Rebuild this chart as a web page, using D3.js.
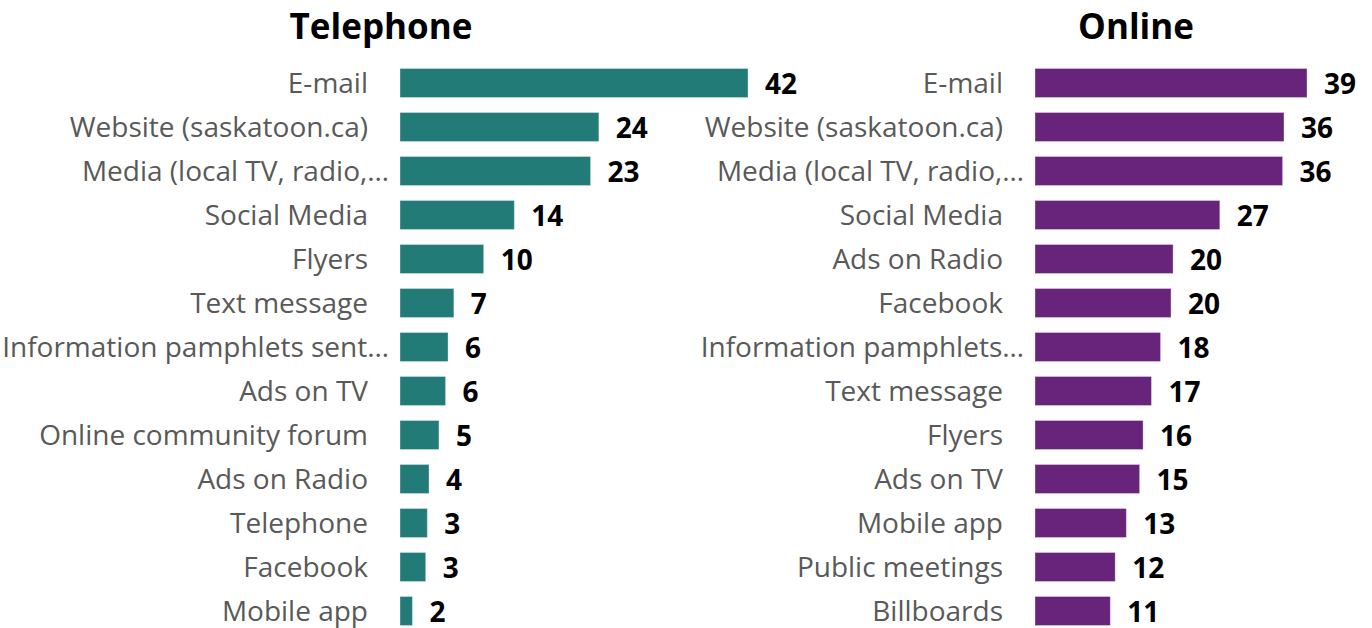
<!DOCTYPE html>
<html>
<head>
<meta charset="utf-8">
<script src="https://cdn.jsdelivr.net/npm/d3@7"></script>
<style>
  body { margin: 0; background: #fff; }
  svg { display: block; }
</style>
</head>
<body>
<div id="chart"></div>
<script>
// data
var phoneTitle = "Telephone";
var phoneCategories = ["E-mail", "Website (saskatoon.ca)", "Media (local TV, radio,…",
  "Social Media", "Flyers", "Text message", "Information pamphlets sent…", "Ads on TV",
  "Online community forum", "Ads on Radio", "Telephone", "Facebook", "Mobile app"];
var phoneValues = [42, 24, 23, 13.8, 10.1, 6.5, 5.8, 5.5, 4.7, 3.5, 3.3, 3.1, 1.5];

var onlineTitle = "Online";
var onlineCategories = ["E-mail", "Website (saskatoon.ca)", "Media (local TV, radio,…",
  "Social Media", "Ads on Radio", "Facebook", "Information pamphlets…", "Text message",
  "Flyers", "Ads on TV", "Mobile app", "Public meetings", "Billboards"];
var onlineValues = [39, 35.7, 35.5, 26.5, 19.8, 19.5, 18.0, 16.7, 15.5, 15.0, 13.1, 11.5, 10.8];

var width = 1372, height = 628;
var fmt = d3.format(".0f");

var svg = d3.select("#chart")
  .append("svg")
    .attr("width", width)
    .attr("height", height);

// draw one panel
function panel(title, titleX, categories, values, x0, x1, color) {
  var data = categories.map((c, i) => ({ cat: c, val: values[i] }));

  var x = d3.scaleLinear()
    .domain([0, d3.max(values)])
    .range([x0, x1]);

  var y = d3.scaleBand()
    .domain(categories)
    .range([61, 633])
    .paddingInner(0.34)
    .paddingOuter(0.17);

  var g = svg.append("g");

  // title
  g.append("text")
    .attr("x", titleX)
    .attr("y", 39)
    .attr("text-anchor", "middle")
    .style("font-family", "'Open Sans', sans-serif")
    .style("font-weight", "bold")
    .style("font-size", "35px")
    .style("fill", "#000")
    .text(title);

  // bars
  g.selectAll("rect")
    .data(data)
    .enter()
    .append("rect")
      .attr("x", x(0))
      .attr("y", d => y(d.cat))
      .attr("width", d => x(d.val) - x(0))
      .attr("height", y.bandwidth())
      .attr("fill", color)
      .attr("stroke", "#ffffff")
      .attr("stroke-opacity", 0.35)
      .attr("stroke-width", 1);

  // category labels
  g.selectAll("text.cat")
    .data(data)
    .enter()
    .append("text")
      .attr("class", "cat")
      .attr("x", d => x(0) - (d.cat.endsWith("…") ? 11 : 32))
      .attr("y", d => y(d.cat) + y.bandwidth() / 2)
      .attr("dy", "0.35em")
      .attr("text-anchor", "end")
      .style("font-family", "'Open Sans', sans-serif")
      .style("font-size", "28px")
      .style("fill", "#595959")
      .text(d => d.cat);

  // value labels
  g.selectAll("text.val")
    .data(data)
    .enter()
    .append("text")
      .attr("class", "val")
      .attr("x", d => x(d.val) + 17)
      .attr("y", d => y(d.cat) + y.bandwidth() / 2 + 1)
      .attr("dy", "0.35em")
      .style("font-family", "'Open Sans', sans-serif")
      .style("font-weight", "bold")
      .style("font-size", "28px")
      .style("fill", "#000")
      .text(d => fmt(d.val));
}

panel(phoneTitle, 381, phoneCategories, phoneValues, 400, 748, "#237b77");
panel(onlineTitle, 1136, onlineCategories, onlineValues, 1035, 1307, "#68237a");
</script>
</body>
</html>
